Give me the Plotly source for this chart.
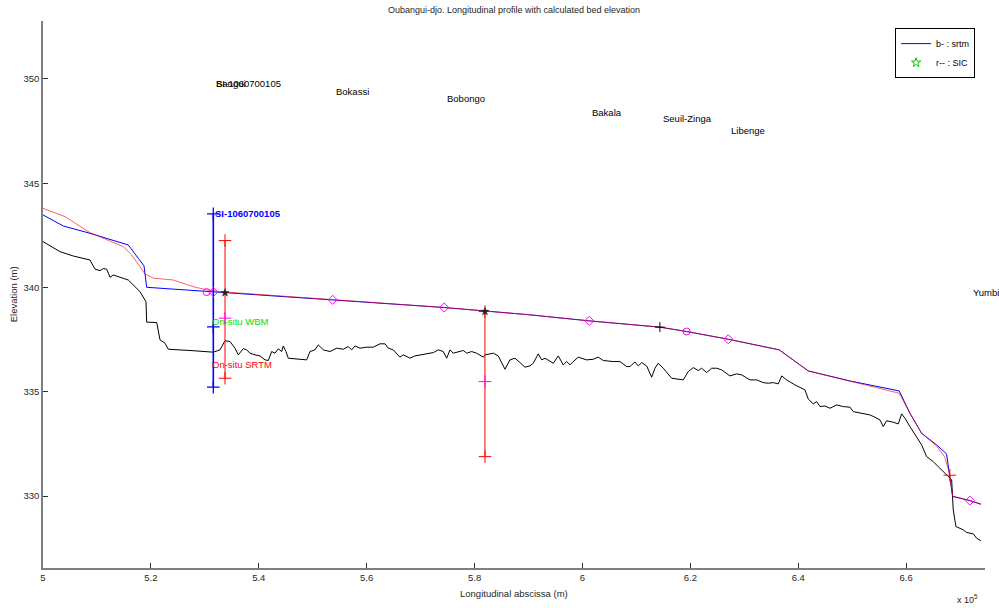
import plotly.graph_objects as go

FONT = "Liberation Sans, Arial, sans-serif"

# ---------------- data ----------------
bed_x = [500000, 503150, 505620, 508710, 509640, 510570, 511180, 511810, 512420, 513030,
         515810, 517980, 519090, 519220, 521080, 521690, 522610, 523230, 527250, 531570,
         532810, 533740, 534660, 535590, 536200, 537130, 537760, 538370, 539300, 540220,
         541150, 541760, 542390, 543000, 543620, 544250, 544540, 545040, 545470, 548880,
         549490, 550420, 551030, 551960, 553200, 554440, 555660, 556590, 557220, 557830,
         558760, 560000, 561220, 562470, 563390, 564000, 564930, 565560, 566170, 566790,
         568030, 568950, 569880, 571120, 572350, 573270, 574200, 574830, 575440, 576050,
         576980, 577910, 578540, 579460, 580390, 581610, 581930, 583470, 584390, 585640,
         586560, 587490, 588420, 589340, 590270, 590880, 591810, 592440, 593050, 594590,
         595520, 596440, 597070, 597690, 598300, 599220, 600780, 602000, 602930, 603860,
         605710, 606950, 608200, 608810, 609730, 610350, 610980, 611900, 612830, 613440,
         614050, 614980, 616540, 618690, 619610, 620540, 621470, 622100, 623020, 623950,
         624880, 625800, 627340, 628580, 629510, 631050, 632290, 633510, 634440, 635370,
         636300, 636930, 637850, 639390, 641240, 641860, 642780, 643410, 644030, 644950,
         645880, 647120, 648340, 649590, 650200, 651440, 652370, 653290, 654220, 655150,
         655760, 656390, 657610, 658540, 659170, 659780, 660710, 661950, 662880, 663800,
         665030, 665950, 667200, 667810, 668440, 668730, 669230, 670590, 671220, 672440,
         673070, 673870]
bed_y = [342.20, 341.72, 341.51, 341.32, 340.88, 340.81, 340.91, 340.88, 340.49, 340.60,
         340.36, 339.80, 339.32, 338.34, 338.32, 337.49, 337.33, 337.04, 336.98, 336.90,
         337.01, 337.45, 337.41, 337.09, 336.77, 337.07, 337.01, 336.85, 336.77, 336.72,
         336.53, 336.50, 336.93, 336.85, 337.06, 336.93, 337.20, 336.93, 336.61, 336.53,
         336.93, 337.01, 337.25, 337.01, 336.93, 337.09, 337.04, 337.17, 337.01, 337.20,
         337.09, 337.14, 337.14, 337.30, 337.30, 337.09, 337.01, 336.85, 336.66, 336.77,
         336.61, 336.72, 336.77, 336.85, 336.88, 337.01, 336.93, 336.61, 337.01, 336.85,
         336.93, 336.98, 336.85, 336.93, 336.85, 336.66, 336.77, 336.85, 336.72, 336.08,
         336.53, 336.61, 336.40, 336.18, 336.24, 336.37, 336.82, 336.53, 336.61, 336.37,
         336.72, 336.29, 336.45, 336.29, 336.45, 336.66, 336.53, 336.56, 336.66, 336.50,
         336.45, 336.45, 336.21, 336.21, 336.43, 336.24, 336.40, 336.24, 335.70, 336.13,
         336.37, 336.13, 335.65, 335.57, 335.97, 336.16, 336.02, 336.13, 335.92, 336.13,
         336.13, 336.05, 335.76, 335.86, 335.81, 335.57, 335.57, 335.44, 335.41, 335.44,
         335.38, 335.76, 335.57, 335.33, 335.09, 334.65, 334.42, 334.53, 334.29, 334.32,
         334.21, 334.37, 334.29, 334.26, 334.05, 334.00, 333.94, 333.89, 333.78, 333.65,
         333.33, 333.61, 333.54, 333.46, 333.94, 333.73, 333.33, 332.85, 332.45, 331.89,
         331.65, 331.41, 331.10, 330.91, 330.78, 329.34, 328.54, 328.38, 328.25, 328.19,
         327.98, 327.85]

srtm_x = [500000, 503760, 508710, 515810, 517660, 518720, 519220, 531570, 553700, 574380,
          590270, 601260, 614360, 619310, 627020, 636480, 641850, 649580, 658720, 660700,
          662870, 665650, 667500, 668620, 671820, 673870]
srtm_y = [343.48, 342.95, 342.60, 342.04, 341.40, 341.04, 340.01, 339.80, 339.41, 339.04,
          338.69, 338.40, 338.10, 337.89, 337.52, 337.01, 336.00, 335.52, 335.04, 333.97,
          333.01, 332.45, 332.02, 329.98, 329.78, 329.61]

sic_x = [500000, 504080, 508710, 514880, 516440, 517980, 518910, 520450, 524150, 527860,
         530340, 532810, 553700, 574380, 590270, 601260, 614360, 619310, 627020, 636480,
         641850, 649580, 658720, 660700, 662870, 665650, 667200, 668100, 668620, 671820,
         673870]
sic_y = [343.80, 343.40, 342.63, 341.96, 341.56, 341.00, 340.65, 340.45, 340.36, 340.04,
         339.89, 339.80, 339.41, 339.04, 338.69, 338.40, 338.10, 337.89, 337.52, 337.01,
         336.00, 335.52, 334.93, 333.97, 333.01, 332.40, 331.85, 331.00, 330.00, 329.79,
         329.61]

# stations (gauges) and their water level
station_names = ["Bangui", "Bokassi", "Bobongo", "Bakala", "Seuil-Zinga", "Libenge", "Yumbi"]
station_x = [531570, 553700, 574380, 601260, 614360, 627020, 671820]
station_wl = [339.76, 339.41, 339.04, 338.40, 338.10, 337.52, 329.78]
label_offset = 10.0

diam_x = [531570, 553700, 574380, 601260, 627020, 671820]
diam_y = [339.78, 339.41, 339.04, 338.40, 337.52, 329.78]
circ_x = [530340, 619310]
circ_y = [339.78, 337.89]
star_x = [533740, 581930]
star_y = [339.75, 338.85]
plus_x = [614360]
plus_y = [338.10]
red_plus_x = [668100]
red_plus_y = [331.00]

# satellite station SI-1060700105
si_name = "SI-1060700105"
si_x = 531570
si_lo, si_mid, si_hi = 335.22, 338.11, 343.53

# in-situ comparisons (red bars)
ins_x = [533740, 581930]
ins_lo = [335.65, 331.89]
ins_hi = [342.25, 338.85]
ins_wbm = [338.53, 335.49]

x_ticks = [500000, 520000, 540000, 560000, 580000, 600000, 620000, 640000, 660000]
x_ticktext = ["5", "5.2", "5.4", "5.6", "5.8", "6", "6.2", "6.4", "6.6"]
y_ticks = [330, 335, 340, 345, 350]

MAG = "#ff00ff"

# ---------------- figure ----------------
fig = go.Figure()

fig.add_trace(go.Scatter(x=bed_x, y=bed_y, mode="lines", line=dict(color="black", width=1),
                         showlegend=False, hoverinfo="skip"))
fig.add_trace(go.Scatter(x=srtm_x, y=srtm_y, mode="lines", line=dict(color="#0000ff", width=1),
                         name="b- : srtm"))
fig.add_trace(go.Scatter(x=sic_x, y=sic_y, mode="lines",
                         line=dict(color="rgba(255,0,0,0.62)", width=1),
                         showlegend=False))
fig.add_trace(go.Scatter(x=[None], y=[None], mode="markers", name="r-- : SIC",
                         marker=dict(symbol="star-open", color="#00cc00", size=7,
                                     line=dict(width=1))))

# in-situ red bars
for xi, lo, hi, wbm in zip(ins_x, ins_lo, ins_hi, ins_wbm):
    fig.add_trace(go.Scatter(x=[xi, xi], y=[lo, hi], mode="lines+markers",
                             line=dict(color="#ff0000", width=1),
                             marker=dict(symbol="cross-thin-open", size=9, color="#ff0000",
                                         line=dict(width=1)),
                             showlegend=False))
    fig.add_trace(go.Scatter(x=[xi], y=[wbm], mode="markers",
                             marker=dict(symbol="cross-thin-open", size=9, color=MAG,
                                         line=dict(width=1)),
                             showlegend=False))

# SI station blue bar
fig.add_trace(go.Scatter(x=[si_x, si_x, si_x], y=[si_lo, si_mid, si_hi], mode="lines+markers",
                         line=dict(color="#0000ff", width=1.6),
                         marker=dict(symbol="cross-thin-open", size=9, color="#0000ff",
                                     line=dict(width=1.3)),
                         showlegend=False))

# markers
fig.add_trace(go.Scatter(x=diam_x, y=diam_y, mode="markers",
                         marker=dict(symbol="diamond-open", size=7, color=MAG,
                                     line=dict(width=1)),
                         showlegend=False))
fig.add_trace(go.Scatter(x=circ_x, y=circ_y, mode="markers",
                         marker=dict(symbol="circle-open", size=7, color=MAG,
                                     line=dict(width=1)),
                         showlegend=False))
fig.add_trace(go.Scatter(x=star_x, y=star_y, mode="markers",
                         marker=dict(symbol="star", size=6, color="#222222",
                                     line=dict(color="#222222", width=0.5)),
                         showlegend=False))
fig.add_trace(go.Scatter(x=plus_x, y=plus_y, mode="markers",
                         marker=dict(symbol="cross-thin-open", size=7, color="black",
                                     line=dict(width=1)),
                         showlegend=False))
fig.add_trace(go.Scatter(x=red_plus_x, y=red_plus_y, mode="markers",
                         marker=dict(symbol="cross-thin-open", size=9, color="#ff0000",
                                     line=dict(width=1)),
                         showlegend=False))

ann = []
txt_font = dict(family=FONT, size=9.5, color="black")
for name, sx, wl in zip(station_names, station_x, station_wl):
    ann.append(dict(x=sx, y=wl + label_offset, xref="x", yref="y", text=name, showarrow=False,
                    xanchor="left", yanchor="middle", xshift=1, font=txt_font))
ann.append(dict(x=si_x, y=339.76 + label_offset, xref="x", yref="y", text=si_name,
                showarrow=False, xanchor="left", yanchor="middle", xshift=1, font=txt_font))
ann.append(dict(x=si_x, y=si_hi, xref="x", yref="y", text="<b>" + si_name + "</b>",
                showarrow=False, xanchor="left", yanchor="middle", xshift=0,
                font=dict(family=FONT, size=9.5, color="#0000ff")))
ann.append(dict(x=si_x, y=338.37, xref="x", yref="y", text="On-situ WBM",
                showarrow=False, xanchor="left", yanchor="middle", xshift=-3,
                font=dict(family=FONT, size=9.5, color="#00e000")))
ann.append(dict(x=si_x, y=336.32, xref="x", yref="y", text="On-situ SRTM",
                showarrow=False, xanchor="left", yanchor="middle", xshift=-3,
                font=dict(family=FONT, size=9.5, color="#ff0000")))
# axis titles
ann.append(dict(x=0.5, y=-0.0475, xref="paper", yref="paper", text="Longitudinal abscissa (m)",
                showarrow=False, xanchor="center", yanchor="middle",
                font=dict(family=FONT, size=9.5, color="#262626")))
ann.append(dict(x=-0.031, y=0.5, xref="paper", yref="paper", text="Elevation (m)",
                showarrow=False, xanchor="center", yanchor="middle", textangle=-90,
                font=dict(family=FONT, size=9.5, color="#262626")))
ann.append(dict(x=0.968, y=-0.057, xref="paper", yref="paper", text="x 10<sup>5</sup>",
                showarrow=False, xanchor="left", yanchor="middle",
                font=dict(family=FONT, size=9, color="#262626")))

fig.update_layout(
    width=999, height=608,
    margin=dict(l=43, r=14, t=21, b=40, autoexpand=False),
    paper_bgcolor="white", plot_bgcolor="white",
    title=dict(text="Oubangui-djo. Longitudinal profile with calculated bed elevation",
               x=0.5, xref="paper", y=1 - 10 / 608, yref="container",
               xanchor="center", yanchor="middle",
               font=dict(family=FONT, size=9, color="#262626")),
    font=dict(family=FONT, size=9.5, color="#262626"),
    annotations=ann,
    legend=dict(x=0.9895, y=0.987, xanchor="right", yanchor="top",
                bordercolor="black", borderwidth=1, bgcolor="white",
                font=dict(family=FONT, size=9, color="black"),
                itemwidth=30, tracegroupgap=0),
    xaxis=dict(range=[500000, 674620], tickvals=x_ticks, ticktext=x_ticktext,
               ticks="inside", ticklen=5, tickcolor="#333", showgrid=False, zeroline=False,
               showline=True, linecolor="#7f7f7f", linewidth=1.5, mirror=False,
               tickfont=dict(family=FONT, size=9.5, color="#262626")),
    yaxis=dict(range=[326.55, 352.78], tickvals=y_ticks,
               ticks="inside", ticklen=5, tickcolor="#333", showgrid=False, zeroline=False,
               showline=True, linecolor="#7f7f7f", linewidth=1.5, mirror=False,
               tickfont=dict(family=FONT, size=9.5, color="#262626")),
)

fig.write_html("out.html", config={"displayModeBar": False},
               post_script="document.body.style.margin='0';document.body.style.overflow='hidden';")
